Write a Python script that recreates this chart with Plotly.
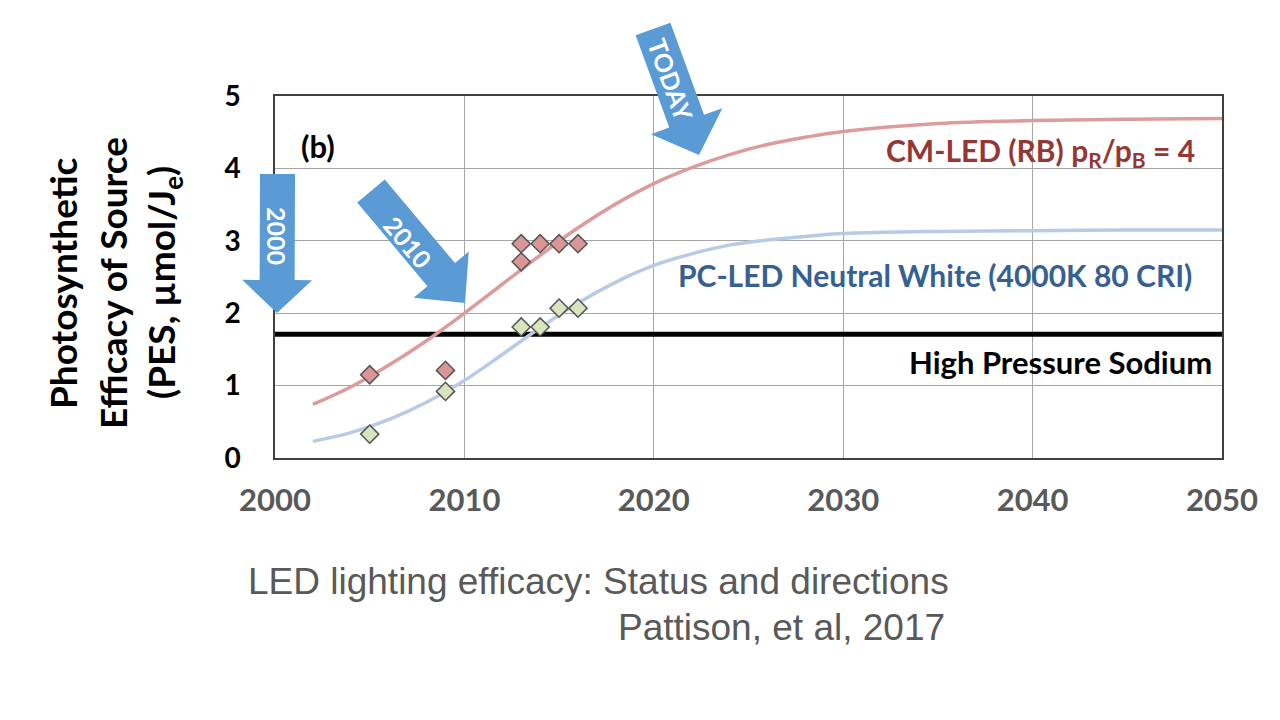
import math
import plotly.graph_objects as go

# ---------------- data ----------------
curve_years = [2002, 2004, 2006, 2008, 2010, 2012, 2014, 2016, 2018, 2020,
               2022, 2024, 2026, 2028, 2030, 2035, 2040, 2045, 2050]
cm_led_curve = [0.74, 0.98, 1.28, 1.62, 2.00, 2.40, 2.80, 3.18, 3.51, 3.79,
                4.01, 4.19, 4.33, 4.43, 4.51, 4.62, 4.66, 4.68, 4.69]
pc_led_curve = [0.23, 0.35, 0.53, 0.77, 1.07, 1.43, 1.80, 2.14, 2.43, 2.66,
                2.82, 2.94, 3.01, 3.06, 3.10, 3.13, 3.14, 3.15, 3.15]

cm_led_pts_x = [2005, 2009, 2013, 2013, 2014, 2015, 2016]
cm_led_pts_y = [1.15, 1.21, 2.96, 2.71, 2.96, 2.96, 2.96]
pc_led_pts_x = [2005, 2009, 2013, 2014, 2015, 2016]
pc_led_pts_y = [0.33, 0.92, 1.81, 1.81, 2.07, 2.07]

hps_x = [2000, 2050]
hps_y = [1.71, 1.71]

x_ticks = [2000, 2010, 2020, 2030, 2040, 2050]
y_ticks = [0, 1, 2, 3, 4, 5]

# ---------------- layout geometry (pixels) ----------------
W, H = 1280, 720
PAGE_OFF = 8  # browser body margin
X0, X1, Y0, Y1 = 275, 1222, 96, 458


def px(x):
    return (x - X0) / (X1 - X0)


def py(y):
    return (Y1 - y) / (Y1 - Y0)


FONT = "Lato, 'Open Sans', sans-serif"
ARROW_BLUE = "#5B9BD5"

fig = go.Figure()

fig.add_trace(go.Scatter(x=hps_x, y=hps_y, mode="lines",
                         line=dict(color="black", width=5), hoverinfo="skip"))
fig.add_trace(go.Scatter(x=curve_years, y=cm_led_curve, mode="lines",
                         line=dict(color="#DC9C9C", width=3.5, shape="spline")))
fig.add_trace(go.Scatter(x=curve_years, y=pc_led_curve, mode="lines",
                         line=dict(color="#B7CBE6", width=3.5, shape="spline")))
fig.add_trace(go.Scatter(x=cm_led_pts_x, y=cm_led_pts_y, mode="markers",
                         marker=dict(symbol="diamond", size=14, color="#D99694",
                                     line=dict(color="#555555", width=1.5))))
fig.add_trace(go.Scatter(x=pc_led_pts_x, y=pc_led_pts_y, mode="markers",
                         marker=dict(symbol="diamond", size=14, color="#D7E4BD",
                                     line=dict(color="#555555", width=1.5))))


# ---------------- block arrows (decorations) ----------------
def arrow_path(tip, tail, w, hw, hl):
    tx, ty = tip
    dx, dy = tip[0] - tail[0], tip[1] - tail[1]
    L = math.hypot(dx, dy)
    ux, uy = dx / L, dy / L
    nx, ny = -uy, ux
    def pt(a, b):  # a along (back from tip), b across
        return (tx - ux * a + nx * b, ty - uy * a + ny * b)
    pts = [pt(L, w / 2), pt(hl, w / 2), pt(hl, hw / 2), (tx, ty),
           pt(hl, -hw / 2), pt(hl, -w / 2), pt(L, -w / 2)]
    return "M " + " L ".join(f"{px(x):.5f},{py(y):.5f}" for x, y in pts) + " Z"


arrows = [
    dict(tip=(277, 313), tail=(277.5, 174), w=35, hw=70, hl=33,
         text="2000", tpos=(277, 236), angle=90),
    dict(tip=(465, 303), tail=(371, 191), w=36, hw=72, hl=37,
         text="2010", tpos=(408, 242), angle=50),
    dict(tip=(699, 155), tail=(653, 29), w=37, hw=76, hl=36,
         text="TODAY", tpos=(671, 80), angle=70),
]
shapes = []
annotations = []
for a in arrows:
    shapes.append(dict(type="path", xref="paper", yref="paper", layer="above",
                       path=arrow_path(a["tip"], a["tail"], a["w"], a["hw"], a["hl"]),
                       fillcolor=ARROW_BLUE, line=dict(width=0)))
    annotations.append(dict(xref="paper", yref="paper", x=px(a["tpos"][0]), y=py(a["tpos"][1]),
                            text=a["text"], showarrow=False, textangle=a["angle"],
                            xanchor="center", yanchor="middle",
                            font=dict(family=FONT, size=25, color="white", weight="bold")))

# ---------------- series labels ----------------
annotations += [
    dict(x=2048.7, y=4.23, xref="x", yref="y", xanchor="right", yanchor="middle",
         text="CM-LED (RB) p<sub>R</sub>/p<sub>B</sub> = 4", showarrow=False,
         font=dict(family=FONT, size=30, color="#953735", weight="bold")),
    dict(x=2048.5, y=2.53, xref="x", yref="y", xanchor="right", yanchor="middle",
         text="PC-LED Neutral White (4000K 80 CRI)", showarrow=False,
         font=dict(family=FONT, size=30, color="#376092", weight="bold")),
    dict(x=2049.6, y=1.33, xref="x", yref="y", xanchor="right", yanchor="middle",
         text="High Pressure Sodium", showarrow=False,
         font=dict(family=FONT, size=31, color="black", weight="bold")),
    dict(xref="paper", yref="paper", x=px(318), y=py(146), xanchor="center", yanchor="middle",
         text="(b)", showarrow=False,
         font=dict(family=FONT, size=31, color="black", weight="bold")),
]

# ---------------- y axis title (three lines) ----------------
ytitle_lines = [("Photosynthetic", 62), ("Efficacy of Source", 112),
                ("(PES, µmol/J<sub>e</sub>)", 163)]
for txt, xc in ytitle_lines:
    annotations.append(dict(xref="paper", yref="paper", x=px(xc), y=py(283),
                            xanchor="center", yanchor="middle", textangle=-90,
                            text=txt, showarrow=False,
                            font=dict(family=FONT, size=37, color="black", weight="bold")))

# ---------------- caption ----------------
CAP_FONT = "'Liberation Sans', Arial, sans-serif"
annotations += [
    dict(xref="paper", yref="paper", x=px(246), y=py(581), xanchor="left", yanchor="middle",
         text="LED lighting efficacy: Status and directions", showarrow=False,
         font=dict(family=CAP_FONT, size=37, color="#595959")),
    dict(xref="paper", yref="paper", x=px(947), y=py(627), xanchor="right", yanchor="middle",
         text="Pattison, et al, 2017", showarrow=False,
         font=dict(family=CAP_FONT, size=37, color="#595959")),
]

fig.update_layout(
    width=W, height=H,
    margin=dict(l=X0 - PAGE_OFF, r=W - X1 + PAGE_OFF, t=Y0 - PAGE_OFF, b=H - Y1 + PAGE_OFF),
    paper_bgcolor="white", plot_bgcolor="white",
    showlegend=False,
    shapes=shapes,
    annotations=annotations,
    xaxis=dict(range=[2000, 2050], tickvals=x_ticks, ticktext=[str(v) for v in x_ticks],
               showgrid=True, gridcolor="#A6A6A6", gridwidth=1,
               showline=True, linecolor="#404040", linewidth=1.5, mirror=True,
               ticks="", ticklabelstandoff=14, zeroline=False,
               tickfont=dict(family=FONT, size=31, color="#595959", weight="bold")),
    yaxis=dict(range=[0, 5], tickvals=y_ticks, ticktext=[str(v) for v in y_ticks],
               showgrid=True, gridcolor="#A6A6A6", gridwidth=1,
               showline=True, linecolor="#404040", linewidth=1.5, mirror=True,
               ticks="", ticklabelstandoff=27, zeroline=False,
               tickfont=dict(family=FONT, size=28, color="black", weight="bold")),
)

fig.write_html("out.html")
